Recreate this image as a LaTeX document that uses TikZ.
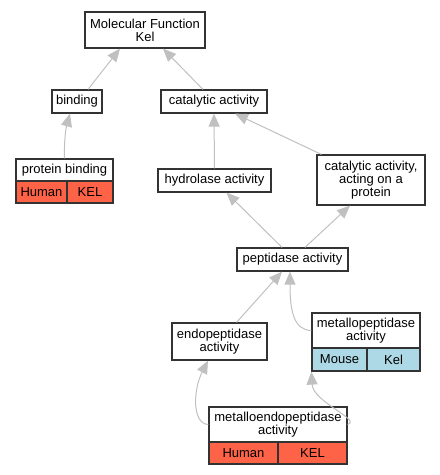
\documentclass[tikz,border=0pt]{standalone}
\usepackage{fontspec}
\setmainfont{Liberation Sans}
\usetikzlibrary{arrows.meta}
\definecolor{humanred}{HTML}{FF6347}
\definecolor{mouseblue}{HTML}{ADD8E6}
\definecolor{edgegray}{HTML}{C0C0C0}
\tikzset{
  term/.style={draw=black!80, line width=1.2pt, fill=white, align=center,
    inner sep=0pt, font=\fontsize{13}{13}\selectfont},
  redcell/.style={term, fill=humanred},
  bluecell/.style={term, fill=mouseblue},
  isa/.style={draw=edgegray, line width=1pt,
    -{Triangle[length=13pt, width=11pt, fill=edgegray]}}
}
\begin{document}
\begin{tikzpicture}[x=1pt, y=-1pt]
    \useasboundingbox (0,0) rectangle (440,475);

    % Terms
    \node[term, minimum width=120pt, minimum height=36pt] (mf) at (145,30) {Molecular Function\\Kel};
    \node[term, minimum width=50pt, minimum height=23pt] (bind) at (77,101.5) {binding};
    \node[term, minimum width=106pt, minimum height=23pt] (cat) at (214,101.5) {catalytic activity};
    \node[term, minimum width=113pt, minimum height=23pt] (hyd) at (214.5,180.5) {hydrolase activity};
    \node[term, minimum width=108pt, minimum height=50pt] (caop) at (371,180) {catalytic activity,\\acting on a\\protein};
    \node[term, minimum width=111pt, minimum height=23pt] (pep) at (292.5,259.5) {peptidase activity};
    \node[term, minimum width=95pt, minimum height=37pt] (endo) at (219.5,341.5) {endopeptidase\\activity};

    % Annotated terms
    \node[term, minimum width=97pt, minimum height=22pt] (pbt) at (64.5,170) {protein binding};
    \node[redcell, minimum width=51pt, minimum height=22pt] (pbh) at (41.5,192) {Human};
    \node[redcell, minimum width=46pt, minimum height=22pt] (pbk) at (90,192) {KEL};

    \node[term, minimum width=108pt, minimum height=35pt] (mpt) at (366,330.5) {metallopeptidase\\activity};
    \node[bluecell, minimum width=55pt, minimum height=23pt] (mpm) at (339.5,359.5) {Mouse};
    \node[bluecell, minimum width=53pt, minimum height=23pt] (mpk) at (393.5,359.5) {Kel};

    \node[term, minimum width=138pt, minimum height=35pt] (met) at (278,424.5) {metalloendopeptidase\\activity};
    \node[redcell, minimum width=69pt, minimum height=22pt] (meh) at (243.5,453) {Human};
    \node[redcell, minimum width=69pt, minimum height=22pt] (mek) at (312.5,453) {KEL};

    % Relations
    \draw[isa] ([xshift=11pt]bind.north) -- ([xshift=-25pt]mf.south);
    \draw[isa] ([xshift=-11pt]cat.north) -- ([xshift=18pt]mf.south);
    \draw[isa] (pbt.north) .. controls (64,140) and (66,128) .. ([xshift=-7pt]bind.south);
    \draw[isa] (hyd.north) -- (cat.south);
    \draw[isa] ([xshift=5pt]caop.north west) -- ([xshift=21pt]cat.south);
    \draw[isa] ([xshift=-10.5pt]pep.north) -- ([xshift=12pt]hyd.south);
    \draw[isa] ([xshift=12.5pt]pep.north) -- ([xshift=-21pt]caop.south);
    \draw[isa] ([xshift=17pt]endo.north) -- ([xshift=-10.5pt]pep.south);
    \draw[isa] (mpt.west) .. controls (294,330) and (290,312) .. ([xshift=-2.5pt]pep.south);
    \draw[isa] (met.west) .. controls (192,424) and (193,390) .. ([xshift=-11.5pt]endo.south);
    \draw[isa] (met.east) .. controls (362,420) and (313,402) .. (mpm.south west);
\end{tikzpicture}
\end{document}
